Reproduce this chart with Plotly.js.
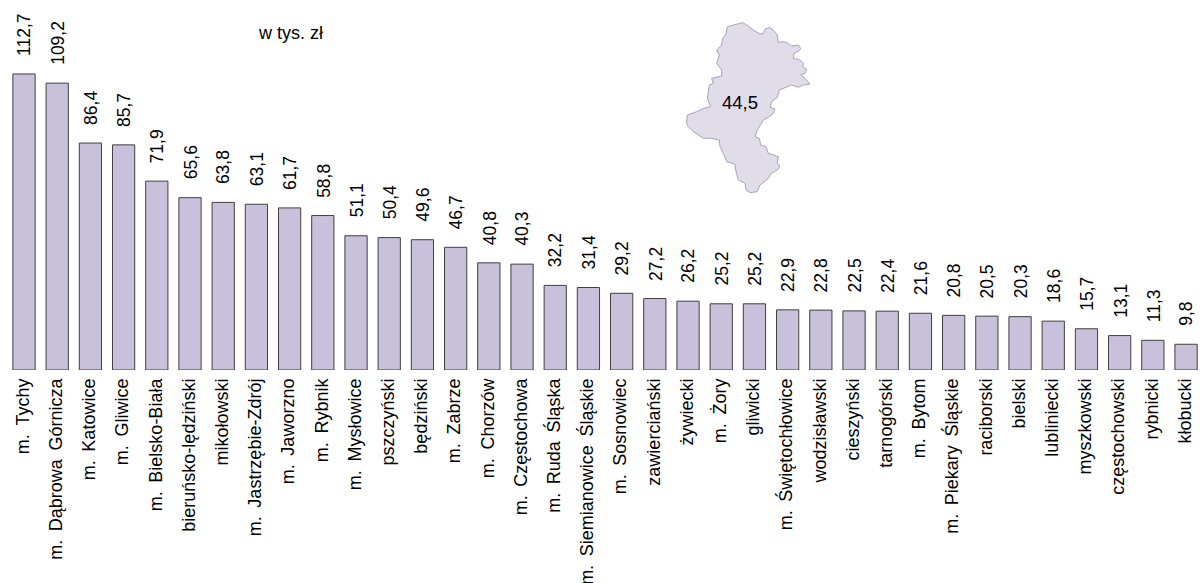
<!DOCTYPE html>
<html><head><meta charset="utf-8">
<script src="https://cdn.plot.ly/plotly-3.0.1.min.js"></script>
<style>html,body{margin:0;padding:0;background:#fff;overflow:hidden}</style>
</head><body><div id="chart" style="width:1200px;height:583px"></div>
<script>
const categories = ["m. Tychy","m. Dąbrowa Górnicza","m. Katowice","m. Gliwice","m. Bielsko-Biała","bieruńsko-lędziński","mikołowski","m. Jastrzębie-Zdrój","m. Jaworzno","m. Rybnik","m. Mysłowice","pszczyński","będziński","m. Zabrze","m. Chorzów","m. Częstochowa","m. Ruda Śląska","m. Siemianowice Śląskie","m. Sosnowiec","zawierciański","żywiecki","m. Żory","gliwicki","m. Świętochłowice","wodzisławski","cieszyński","tarnogórski","m. Bytom","m. Piekary Śląskie","raciborski","bielski","lubliniecki","myszkowski","częstochowski","rybnicki","kłobucki"];
const values = [112.7,109.2,86.4,85.7,71.9,65.6,63.8,63.1,61.7,58.8,51.1,50.4,49.6,46.7,40.8,40.3,32.2,31.4,29.2,27.2,26.2,25.2,25.2,22.9,22.8,22.5,22.4,21.6,20.8,20.5,20.3,18.6,15.7,13.1,11.3,9.8];
const mapX = [218,235,250,270,280,285,298,312,322,325,340,355,365,385,392,388,372,370,390,400,398,410,405,392,405,420,400,385,365,345,328,322,305,300,315,308,295,280,270,262,255,268,272,288,295,310,325,322,330,322,305,290,270,262,240,228,225,205,197,195,170,160,150,148,125,100,85,70,55,50,52,80,100,122,112,118,130,125,155,155,140,148,140,155,158,168,172,195,218];
const mapY = [38,48,60,72,70,58,52,62,75,97,95,100,108,105,115,122,130,145,150,160,170,178,190,195,205,222,225,232,225,232,240,262,275,292,297,312,322,330,345,360,380,385,405,410,430,435,440,460,468,480,490,510,525,545,548,540,520,510,480,462,455,430,410,390,385,385,375,365,350,340,315,305,295,290,265,225,220,205,198,180,160,135,120,105,85,72,50,45,38];
const regionValue = "44,5";
const unitLabel = "w tys. zł";
const fontFam = '"Liberation Sans", Arial, sans-serif';
const comma = v => v.toFixed(1).replace('.', ',');
const xs = categories.map((_, i) => i);
const traces = [
  {type:'bar', x:xs, y:values, width:0.67, marker:{color:'#C9C0DB', line:{color:'#3f3f3f', width:1}}, hoverinfo:'skip', cliponaxis:false},
  {type:'scatter', mode:'lines', x:mapX, y:mapY, xaxis:'x2', yaxis:'y2', fill:'toself', fillcolor:'#E0DCE8', line:{color:'#A8A2BC', width:1}, hoverinfo:'skip'}
];
const annotations = values.map((v,i) => ({
  x:i, y:v, xref:'x', yref:'y', text:comma(v), showarrow:false, textangle:-90,
  yanchor:'bottom', xanchor:'center', yshift:16, xshift:0.5, font:{family:fontFam, size:17.5, color:'#000'}
}));
annotations.push({x:290, y:33, xref:'x3', yref:'y3', text:unitLabel, showarrow:false, font:{family:fontFam, size:18, color:'#000'}});
annotations.push({x:740, y:102, xref:'x3', yref:'y3', text:regionValue, showarrow:false, font:{family:fontFam, size:18.5, color:'#000'}});
traces.push({type:'scatter', mode:'markers', x:[0], y:[0], xaxis:'x3', yaxis:'y3', marker:{opacity:0}, hoverinfo:'skip'});
const layout = {
  width:1200, height:583, showlegend:false, paper_bgcolor:'#fff', plot_bgcolor:'#fff',
  margin:{l:0,r:0,t:0,b:213,pad:0},
  bargap:0.33,
  xaxis:{range:[-0.723,35.42], tickmode:'array', tickvals:xs, ticktext:categories.map(c => c.replace(/ /g, ' \u2009')), tickangle:-90, ticks:'', showgrid:false, zeroline:false, showline:false, ticklen:0,
         ticklabelstandoff:4, ticklabelshift:-1, tickfont:{family:fontFam, size:18, color:'#000'}, automargin:false},
  yaxis:{range:[0,140.85], visible:false, showgrid:false, zeroline:false},
  xaxis2:{overlaying:'x', range:[-2010,1590], visible:false},
  yaxis2:{overlaying:'y', range:[1080,-30], visible:false},
  xaxis3:{overlaying:'x', range:[0,1200], visible:false},
  yaxis3:{overlaying:'y', range:[370,0], visible:false},
  annotations
};
Plotly.newPlot('chart', traces, layout, {displayModeBar:false, staticPlot:true});
</script></body></html>
